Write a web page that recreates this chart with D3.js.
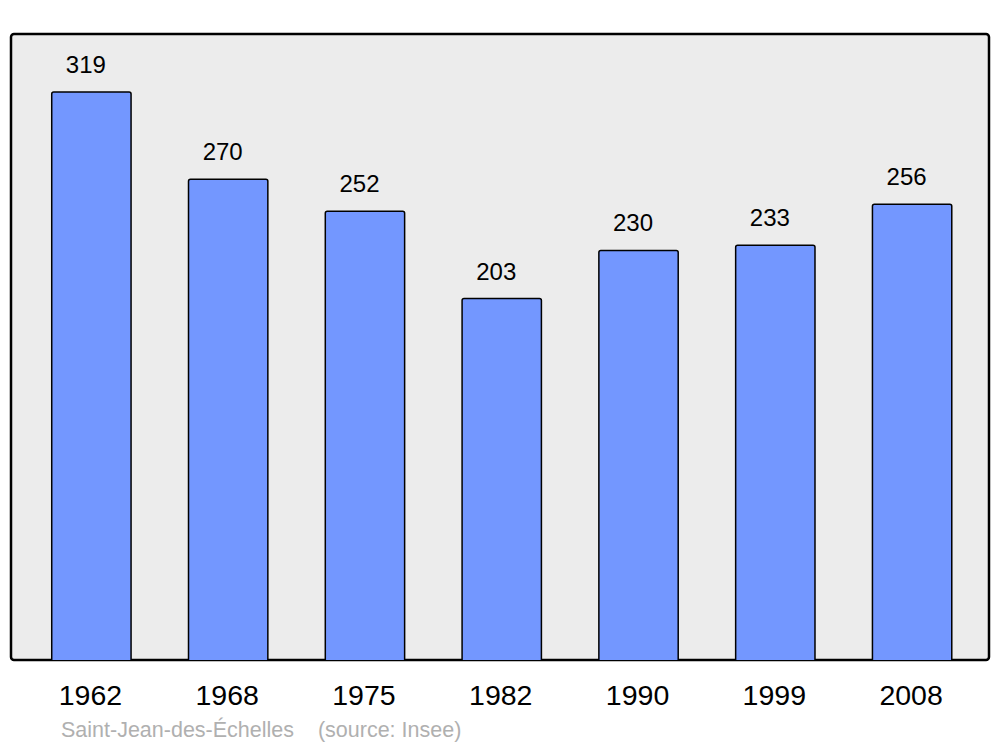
<!DOCTYPE html>
<html>
<head>
<meta charset="utf-8">
<script src="https://cdn.jsdelivr.net/npm/d3@7"></script>
<style>
  body { margin: 0; background: #fff; }
  svg { display: block; font-family: "Liberation Sans", Arial, sans-serif; }
</style>
</head>
<body>
<div id="chart"></div>
<script>
const years = ["1962", "1968", "1975", "1982", "1990", "1999", "2008"];
const population = [319, 270, 252, 203, 230, 233, 256];
const caption = "Saint-Jean-des-Échelles    (source: Insee)";

const width = 1000, height = 747;
const frame = { left: 11, top: 34, right: 989, bottom: 660 };

const svg = d3.select("#chart").append("svg")
    .attr("width", width)
    .attr("height", height);

// background panel
svg.append("rect")
    .attr("x", frame.left)
    .attr("y", frame.top)
    .attr("width", frame.right - frame.left)
    .attr("height", frame.bottom - frame.top)
    .attr("rx", 3)
    .attr("fill", "#ececec")
    .attr("stroke", "#000")
    .attr("stroke-width", 2.5);

const x = d3.scaleBand()
    .domain(years)
    .range([23, 980.5])
    .paddingInner(0.42)
    .paddingOuter(0.21);

const y = d3.scaleLinear()
    .domain([0, d3.max(population)])
    .range([frame.bottom, 92]);

const data = years.map((yr, i) => ({ year: yr, value: population[i] }));

// bars
svg.selectAll(".bar")
    .data(data)
    .enter().append("path")
    .attr("class", "bar")
    .attr("d", d => {
        const x0 = x(d.year), x1 = x0 + x.bandwidth();
        const top = y(d.value), bot = y(0), r = 2;
        return `M${x0},${bot}V${top + r}Q${x0},${top} ${x0 + r},${top}H${x1 - r}Q${x1},${top} ${x1},${top + r}V${bot}`;
    })
    .attr("fill", "#7397ff")
    .attr("stroke", "#000")
    .attr("stroke-width", 1.5);

// value labels (sit a little left of bar centre in the original)
svg.selectAll(".val")
    .data(data)
    .enter().append("text")
    .attr("class", "val")
    .attr("x", d => x(d.year) + x.bandwidth() / 2 - 5.5)
    .attr("y", d => y(d.value) - 19)
    .attr("text-anchor", "middle")
    .attr("font-size", 24)
    .attr("fill", "#000")
    .text(d => d.value);

// year labels
svg.selectAll(".year")
    .data(years)
    .enter().append("text")
    .attr("class", "year")
    .attr("x", d => x(d) + x.bandwidth() / 2 - 1)
    .attr("y", 705)
    .attr("text-anchor", "middle")
    .attr("font-size", 28.5)
    .attr("fill", "#000")
    .text(d => d);

// caption
svg.append("text")
    .attr("x", 61)
    .attr("y", 737)
    .attr("font-size", 21.5)
    .attr("fill", "#b0b0b0")
    .attr("xml:space", "preserve")
    .style("white-space", "pre")
    .text(caption);
</script>
</body>
</html>
